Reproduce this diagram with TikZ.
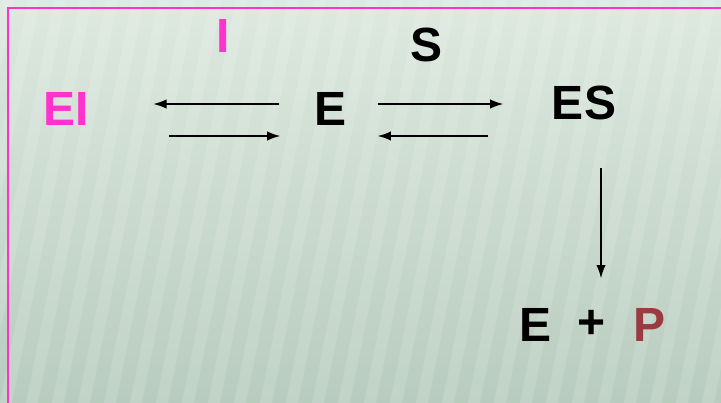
\documentclass[tikz,border=0pt]{standalone}
\usepackage{fontspec}
\setmainfont{Liberation Sans}
\usetikzlibrary{arrows.meta}

\definecolor{inhibPink}{RGB}{255,51,204}
\definecolor{prodRed}{RGB}{155,58,64}
\definecolor{bgTop}{RGB}{222,233,224}
\definecolor{bgBot}{RGB}{184,204,190}

\tikzset{every picture/.style={line width=0.75pt}}
\tikzset{
  species/.style={inner sep=0pt, font=\fontsize{36}{40}\selectfont\bfseries},
  rxn/.style={-{Latex[length=10pt,width=7pt]}, line width=1.3pt},
}

\begin{document}
\begin{tikzpicture}[x=0.75pt,y=0.75pt,yscale=-1,xscale=1]
\useasboundingbox (0,0) rectangle (721,403);

%Shape: Background
\shade [top color=bgTop, bottom color=bgBot] (0,0) rectangle (721,403);
\begin{scope}
\clip (0,0) rectangle (721,403);
\foreach \i in {-4,...,30}
  \fill [white, opacity=0.13] (\i*26,403) -- (\i*26+12,403) -- (\i*26+92,0) -- (\i*26+80,0) -- cycle;
\end{scope}
%Shape: Frame
\draw [color=inhibPink, line width=2pt] (8,403) -- (8,8) -- (721,8);

% Text Node
\node [species, inhibPink] (EI) at (66,109) {EI};
% Text Node
\node [species, inhibPink] (I) at (223,36) {I};
% Text Node
\node [species] (E) at (331,109) {E};
% Text Node
\node [species] (S) at (427,45) {S};
% Text Node
\node [species] (ES) at (584,103) {ES};
% Text Node
\node [species] (E2) at (536,325) {E};
% Text Node
\node [species] (plus) at (592,324) {+};
% Text Node
\node [species, prodRed] (P) at (649,325) {P};

%Arrows (shifts are flipped by yscale=-1)
\draw [rxn, shorten <=26.25pt, shorten >=48pt] ([yshift=-3.75pt]E.west) -- ([yshift=-3.75pt]EI.east);
\draw [rxn, shorten <=60pt, shorten >=25.5pt] ([yshift=20.25pt]EI.east) -- ([yshift=20.25pt]E.west);
\draw [rxn, shorten <=22.5pt, shorten >=36pt] ([yshift=-3.75pt]E.east) -- ([yshift=0.75pt]ES.west);
\draw [rxn, shorten <=47.25pt, shorten >=22.5pt] ([yshift=24.75pt]ES.west) -- ([yshift=20.25pt]E.east);
\draw [rxn, shorten <=36pt, shorten >=23.25pt] ([xshift=12.75pt]ES.south) -- ([xshift=6.75pt]plus.north);

\end{tikzpicture}
\end{document}
